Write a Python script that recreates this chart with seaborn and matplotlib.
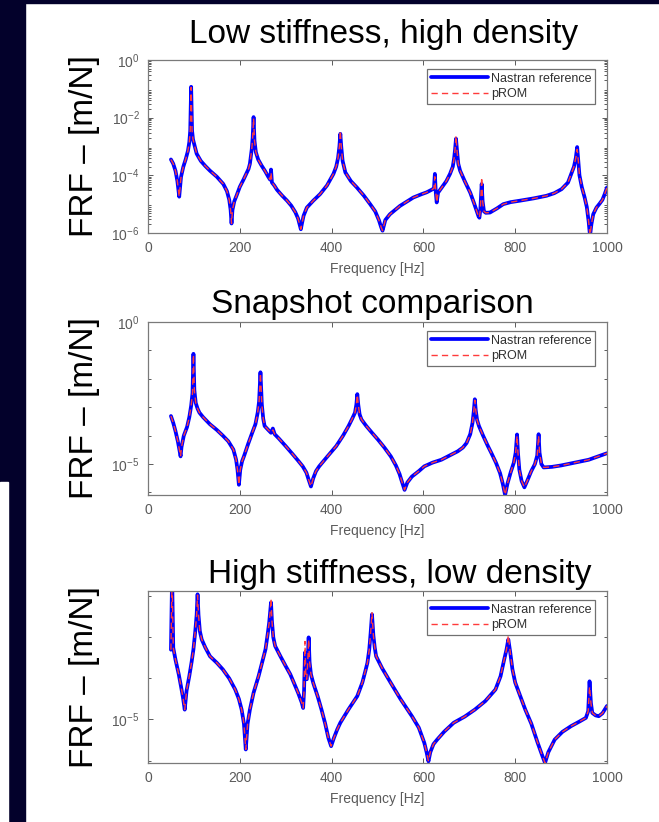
import numpy as np
import pandas as pd
import matplotlib.pyplot as plt
import matplotlib.ticker as mticker
from matplotlib.patches import Rectangle
import seaborn as sns

sns.set_style("ticks")
plt.rcParams['font.family'] = ['Liberation Sans', 'DejaVu Sans']
plt.rcParams['mathtext.fontset'] = 'custom'
plt.rcParams['mathtext.rm'] = 'Liberation Sans'
plt.rcParams['mathtext.it'] = 'Liberation Sans'

# --- data (frequency in Hz, FRF as log10 of m/N) ---
freq_low = [50, 55, 60, 64, 68, 72, 77, 82, 87, 90, 92, 94, 96, 98, 102, 106, 115, 125,
            135, 150, 164, 172, 177, 180, 182, 184, 188, 193, 200, 208, 214, 219, 222,
            226, 228, 230, 232, 235, 240, 247, 255, 262, 266, 268, 270, 275, 281, 292,
            303, 312, 321, 327, 331, 333, 335, 339, 346, 360, 375, 390, 404, 410, 414,
            417, 419, 421, 424, 430, 442, 455, 470, 484, 495, 503, 508, 511, 513, 517,
            527, 540, 549, 565, 578, 595, 607, 618, 623, 625, 627, 629, 632, 640, 650,
            658, 664, 667, 669, 671, 673, 676, 680, 690, 702, 710, 716, 720, 722, 724,
            727, 729, 732, 736, 745, 760, 774, 790, 810, 840, 868, 885, 901, 915, 922,
            928, 932, 935, 937, 940, 945, 951, 956, 960, 963, 966, 970, 977, 984, 990,
            995, 1000]
nastran_low = [-3.45, -3.6, -3.85, -4.2, -4.74, -4.05, -3.7, -3.45, -3.15, -2.85, -2.45,
               -0.93, -2.45, -2.75, -3.0, -3.25, -3.5, -3.68, -3.84, -4.05, -4.3, -4.55,
               -4.85, -5.2, -5.67, -5.2, -4.9, -4.7, -4.4, -4.15, -3.95, -3.78, -3.6, -3.1,
               -2.7, -1.98, -2.8, -3.2, -3.45, -3.65, -3.85, -4.05, -4.15, -3.8, -4.25,
               -4.35, -4.5, -4.7, -4.88, -5.05, -5.28, -5.5, -5.75, -5.87, -5.7, -5.4,
               -5.12, -4.88, -4.65, -4.35, -3.95, -3.7, -3.4, -3.0, -2.56, -3.0, -3.5,
               -3.9, -4.2, -4.42, -4.7, -5.0, -5.25, -5.55, -5.8, -5.92, -5.8, -5.55,
               -5.35, -5.18, -5.06, -4.9, -4.77, -4.66, -4.59, -4.5, -4.45, -3.95, -4.6,
               -4.94, -4.6, -4.42, -4.2, -3.95, -3.7, -3.4, -3.1, -2.73, -3.1, -3.6, -3.84,
               -4.2, -4.6, -4.95, -5.23, -5.42, -5.47, -5.2, -4.3, -4.9, -5.25, -5.3,
               -5.29, -5.15, -5.0, -4.93, -4.88, -4.8, -4.71, -4.62, -4.48, -4.25, -3.95,
               -3.7, -3.4, -3.02, -3.4, -4.0, -4.4, -4.75, -5.1, -5.6, -6.1, -5.7, -5.35,
               -5.12, -4.98, -4.85, -4.65, -4.42]
prom_low = [-3.45, -3.6, -3.85, -4.2, -4.74, -4.05, -3.7, -3.45, -3.15, -2.85, -2.45,
            -0.95, -2.45, -2.75, -3.0, -3.25, -3.5, -3.68, -3.84, -4.05, -4.3, -4.55,
            -4.85, -5.2, -5.67, -5.2, -4.9, -4.7, -4.4, -4.15, -3.95, -3.78, -3.6, -3.1,
            -2.7, -2.02, -2.8, -3.2, -3.45, -3.65, -3.85, -4.05, -4.15, -3.9, -4.25,
            -4.35, -4.5, -4.7, -4.88, -5.05, -5.28, -5.5, -5.75, -5.87, -5.7, -5.4,
            -5.12, -4.88, -4.65, -4.35, -3.95, -3.7, -3.4, -3.0, -2.45, -3.0, -3.5,
            -3.9, -4.2, -4.42, -4.7, -5.0, -5.25, -5.55, -5.8, -5.92, -5.8, -5.55,
            -5.35, -5.18, -5.06, -4.9, -4.77, -4.66, -4.59, -4.5, -4.45, -4.05, -4.6,
            -4.94, -4.6, -4.42, -4.2, -3.95, -3.7, -3.4, -3.1, -2.63, -3.1, -3.6, -3.84,
            -4.2, -4.6, -4.95, -5.23, -5.42, -5.47, -5.2, -4.07, -4.9, -5.25, -5.3,
            -5.29, -5.15, -5.0, -4.93, -4.88, -4.8, -4.71, -4.62, -4.48, -4.25, -3.95,
            -3.7, -3.4, -3.1, -3.4, -4.0, -4.4, -4.75, -5.1, -5.6, -6.1, -5.7, -5.35,
            -5.12, -4.98, -4.85, -4.65, -4.42]

freq_snap = [50, 55, 60, 65, 69, 71, 73, 78, 85, 90, 94, 97, 99, 101, 104, 108, 112, 120,
             135, 150, 163, 175, 186, 192, 195, 198, 201, 205, 209, 218, 227, 234, 239,
             242, 245, 248, 251, 254, 262, 268, 272, 276, 285, 300, 315, 327, 337, 345,
             350, 355, 360, 366, 373, 390, 410, 425, 437, 445, 451, 454, 456, 458, 461,
             465, 475, 488, 501, 515, 529, 540, 548, 552, 559, 565, 575, 590, 602, 620,
             639, 657, 675, 686, 694, 702, 707, 710, 712, 714, 717, 721, 730, 740, 748,
             758, 767, 773, 778, 783, 790, 797, 801, 804, 806, 809, 814, 820, 826, 835,
             843, 848, 851, 853, 857, 862, 880, 900, 930, 960, 1000]
nastran_snap = [-3.31, -3.55, -3.85, -4.2, -4.55, -4.73, -4.4, -4.0, -3.7, -3.35, -2.95,
                -2.5, -1.12, -2.4, -2.85, -3.05, -3.19, -3.35, -3.6, -3.8, -4.0, -4.2,
                -4.49, -4.85, -5.2, -5.73, -5.2, -4.9, -4.73, -4.3, -3.9, -3.6, -3.19,
                -2.8, -1.77, -2.9, -3.4, -3.66, -3.8, -3.9, -3.75, -3.95, -4.1, -4.37,
                -4.65, -4.88, -5.08, -5.3, -5.55, -5.79, -5.5, -5.25, -5.08, -4.75,
                -4.37, -4.0, -3.66, -3.4, -3.19, -2.9, -2.54, -2.9, -3.25, -3.43, -3.65,
                -3.9, -4.14, -4.42, -4.73, -5.05, -5.35, -5.56, -5.91, -5.65, -5.44,
                -5.25, -5.08, -4.95, -4.85, -4.7, -4.55, -4.42, -4.26, -3.95, -3.55,
                -3.1, -2.72, -3.1, -3.45, -3.66, -4.0, -4.35, -4.61, -4.95, -5.32, -5.7,
                -6.09, -5.7, -5.3, -4.95, -4.6, -3.96, -4.6, -5.2, -5.6, -5.82, -5.6,
                -5.25, -5.0, -4.7, -3.95, -4.6, -5.0, -5.12, -5.1, -5.05, -4.95, -4.85,
                -4.62]
prom_snap = [-3.31, -3.55, -3.85, -4.2, -4.55, -4.73, -4.4, -4.0, -3.7, -3.35, -2.95,
             -2.5, -1.15, -2.4, -2.85, -3.05, -3.19, -3.35, -3.6, -3.8, -4.0, -4.2,
             -4.49, -4.85, -5.2, -5.73, -5.2, -4.9, -4.73, -4.3, -3.9, -3.6, -3.19,
             -2.8, -1.8, -2.9, -3.4, -3.66, -3.8, -3.9, -3.8, -3.95, -4.1, -4.37,
             -4.65, -4.88, -5.08, -5.3, -5.55, -5.79, -5.5, -5.25, -5.08, -4.75,
             -4.37, -4.0, -3.66, -3.4, -3.19, -2.9, -2.56, -2.9, -3.25, -3.43, -3.65,
             -3.9, -4.14, -4.42, -4.73, -5.05, -5.35, -5.56, -5.91, -5.65, -5.44,
             -5.25, -5.08, -4.95, -4.85, -4.7, -4.55, -4.42, -4.26, -3.95, -3.55,
             -3.1, -2.75, -3.1, -3.45, -3.66, -4.0, -4.35, -4.61, -4.95, -5.32, -5.7,
             -6.09, -5.7, -5.3, -4.95, -4.6, -4.0, -4.6, -5.2, -5.6, -5.82, -5.6,
             -5.25, -5.0, -4.7, -4.0, -4.6, -5.0, -5.12, -5.1, -5.05, -4.95, -4.85,
             -4.62]

freq_high = [50, 52.5, 55, 60, 67, 72, 76, 80, 84, 90, 95, 99, 103, 106, 108, 110, 113,
             117, 125, 135, 150, 163, 177, 190, 198, 204, 209, 213, 217, 222, 230, 241,
             250, 256, 261, 264, 266, 268, 270, 273, 277, 288, 300, 310, 318, 327, 335,
             338, 340, 342, 344, 346, 348, 350, 352, 355, 360, 370, 378, 386, 393, 399,
             405, 412, 419, 437, 456, 467, 474, 478, 482, 485, 488, 491, 494, 497, 510,
             529, 550, 575, 590, 602, 607, 611, 615, 622, 630, 645, 666, 690, 712, 735,
             757, 768, 776, 781, 785, 789, 794, 800, 810, 822, 835, 849, 858, 865, 872,
             886, 903, 922, 940, 954, 959, 962, 965, 968, 975, 982, 990, 1000]
nastran_high = [-3.3, -1.5, -3.25, -3.55, -3.9, -4.2, -4.45, -4.76, -4.3, -3.94, -3.6,
                -3.29, -2.85, -2.45, -1.95, -2.45, -2.85, -3.05, -3.25, -3.46, -3.62,
                -3.78, -4.0, -4.27, -4.5, -4.76, -5.1, -5.73, -5.1, -4.76, -4.35, -3.94,
                -3.55, -3.29, -2.9, -2.64, -2.4, -2.15, -2.6, -3.0, -3.21, -3.45, -3.7,
                -3.9, -4.11, -4.35, -4.59, -4.72, -4.3, -3.37, -4.0, -4.02, -3.6, -3.0,
                -3.6, -3.9, -4.11, -4.45, -4.76, -5.1, -5.45, -5.65, -5.45, -5.25,
                -5.08, -4.75, -4.43, -4.1, -3.8, -3.62, -3.3, -2.9, -2.44, -2.95, -3.25,
                -3.46, -3.75, -4.11, -4.5, -4.92, -5.2, -5.57, -5.8, -6.02, -5.8, -5.6,
                -5.49, -5.3, -5.08, -4.93, -4.76, -4.55, -4.27, -3.95, -3.54, -3.3,
                -3.05, -3.35, -3.78, -4.1, -4.4, -4.76, -5.1, -5.57, -5.85, -6.06, -5.8,
                -5.49, -5.3, -5.16, -5.05, -4.96, -4.8, -4.07, -4.6, -4.84, -4.9, -4.92,
                -4.85, -4.67]
prom_high = [-3.3, -1.5, -3.25, -3.55, -3.9, -4.2, -4.45, -4.76, -4.3, -3.94, -3.6,
             -3.29, -2.85, -2.45, -1.97, -2.45, -2.85, -3.05, -3.25, -3.46, -3.62,
             -3.78, -4.0, -4.27, -4.5, -4.76, -5.1, -5.73, -5.1, -4.76, -4.35, -3.94,
             -3.55, -3.29, -2.9, -2.64, -2.4, -2.05, -2.6, -3.0, -3.21, -3.45, -3.7,
             -3.9, -4.11, -4.35, -4.59, -4.72, -4.3, -3.1, -4.0, -4.02, -3.6, -3.05,
             -3.6, -3.9, -4.11, -4.45, -4.76, -5.1, -5.45, -5.65, -5.45, -5.25,
             -5.08, -4.75, -4.43, -4.1, -3.8, -3.62, -3.3, -2.9, -2.4, -2.95, -3.25,
             -3.46, -3.75, -4.11, -4.5, -4.92, -5.2, -5.57, -5.8, -6.02, -5.8, -5.6,
             -5.49, -5.3, -5.08, -4.93, -4.76, -4.55, -4.27, -3.95, -3.54, -3.3,
             -2.95, -3.35, -3.78, -4.1, -4.4, -4.76, -5.1, -5.57, -5.85, -6.06, -5.8,
             -5.49, -5.3, -5.16, -5.05, -4.96, -4.8, -4.2, -4.6, -4.84, -4.9, -4.92,
             -4.85, -4.67]

titles = ['Low stiffness, high density', 'Snapshot comparison', 'High stiffness, low density']
freq_ticks = [0, 200, 400, 600, 800, 1000]

panels = [
    (freq_low, nastran_low, prom_low, (1e-6, 1e0), [1e-6, 1e-4, 1e-2, 1e0]),
    (freq_snap, nastran_snap, prom_snap, (10 ** -6.09, 1e0), [1e-5, 1e0]),
    (freq_high, nastran_high, prom_high, (10 ** -6.06, 10 ** -1.87), [1e-5]),
]

navy = '#03012b'
tick_grey = '#5a5a5a'

fig = plt.figure(figsize=(6.59, 8.22), dpi=100)
fig.patch.set_facecolor('white')

# slide background pieces around the white panel
fig.patches.append(Rectangle((0, 0), 25 / 659, 1, transform=fig.transFigure,
                             color=navy, zorder=0))
fig.patches.append(Rectangle((0, 1 - 3 / 822), 1, 3 / 822, transform=fig.transFigure,
                             color=navy, zorder=0))
fig.patches.append(Rectangle((0, 0), 8 / 659, 340 / 822, transform=fig.transFigure,
                             color='white', zorder=1))

# axes boxes in pixels: (top, bottom)
boxes = [(60, 233), (322, 495), (591, 763)]
title_pos = [(384, 34), (372, 304), (400, 574)]

for i, (freq, nas, prom, ylim, yticks) in enumerate(panels):
    top, bot = boxes[i]
    ax = fig.add_axes([148 / 659, 1 - bot / 822, (607 - 148) / 659, (bot - top) / 822])
    df = pd.DataFrame({'freq': freq,
                       'nastran': 10 ** np.array(nas),
                       'prom': 10 ** np.array(prom)})
    sns.lineplot(data=df, x='freq', y='nastran', ax=ax, color='#0000ff', lw=2.7,
                 label='Nastran reference', estimator=None, sort=False)
    sns.lineplot(data=df, x='freq', y='prom', ax=ax, color='#ff3b3b', lw=1.0,
                 linestyle=(0, (4.5, 3)), label='pROM', estimator=None, sort=False)
    ax.set_yscale('log')
    ax.set_xlim(0, 1000)
    ax.set_ylim(*ylim)
    ax.set_xticks(freq_ticks)
    ax.set_yticks(yticks)
    ax.yaxis.set_major_formatter(mticker.LogFormatterMathtext())
    if i == 0:
        ax.yaxis.set_minor_locator(mticker.LogLocator(base=10, subs=np.arange(2, 10), numticks=20))
    else:
        ax.yaxis.set_minor_locator(mticker.LogLocator(base=10, subs=(1.0,), numticks=20))
    ax.yaxis.set_minor_formatter(mticker.NullFormatter())
    ax.set_xlabel('Frequency [Hz]', fontsize=10, color=tick_grey, labelpad=5)
    ax.set_ylabel('FRF \u2013 [m/N]', fontsize=24, color='black', labelpad=8)
    ax.tick_params(axis='both', which='both', direction='in', top=True, right=True,
                   labelsize=10, colors=tick_grey, length=3.5, width=0.7, pad=6)
    ax.tick_params(axis='y', which='minor', length=2)
    for sp in ax.spines.values():
        sp.set_color('#7a7a7a')
        sp.set_linewidth(0.9)
    leg = ax.legend(loc='upper right', bbox_to_anchor=(1 - 12 / 459, 1 - 9 / 173),
                    fontsize=9, handlelength=4.6, handletextpad=0.2, labelspacing=0.3,
                    borderpad=0.3, borderaxespad=0, fancybox=False, framealpha=1)
    leg.get_frame().set_edgecolor('#707070')
    leg.get_frame().set_linewidth(0.9)
    for t in leg.get_texts():
        t.set_color('#303030')
    tx, ty = title_pos[i]
    fig.text(tx / 659, 1 - ty / 822, titles[i], fontsize=24, ha='center', va='center',
             color='black')

fig.savefig('out.png', dpi=100)
